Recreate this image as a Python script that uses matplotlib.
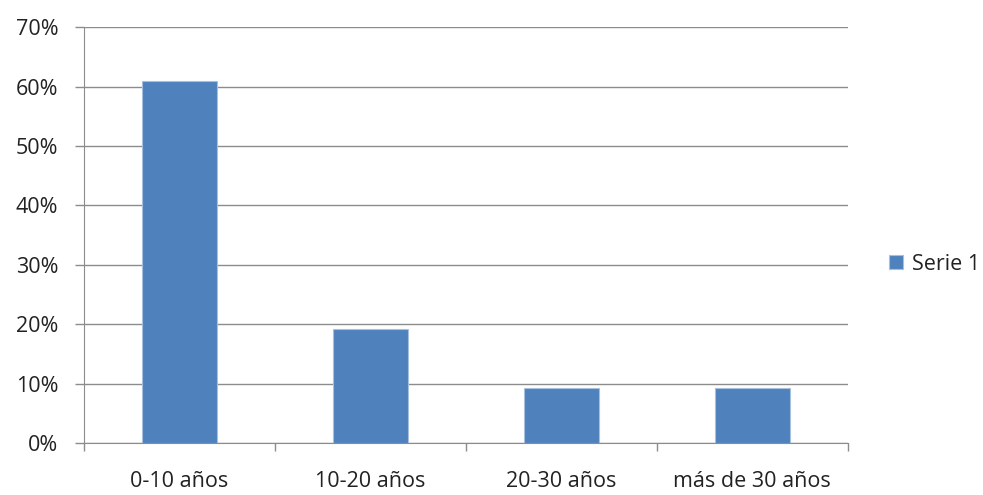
import matplotlib.pyplot as plt
import numpy as np
from matplotlib.ticker import PercentFormatter

categories = ["0-10 años", "10-20 años", "20-30 años", "más de 30 años"]
values = [61, 19.2, 9.3, 9.3]
series_name = "Serie 1"
yticks = [0, 10, 20, 30, 40, 50, 60, 70]

plt.rcParams["font.family"] = ["Open Sans", "DejaVu Sans"]

fig = plt.figure(figsize=(9.83, 4.95), dpi=100)
ax = fig.add_axes([0.0855, 0.105, 0.777, 0.84])

x = np.arange(len(categories))
ax.bar(x, values, width=0.39, color="#4F81BD", edgecolor="#A7C0DE",
       linewidth=0.8, label=series_name, zorder=3)

ax.set_xlim(-0.5, len(categories) - 0.5)
ax.set_ylim(0, 70)
ax.set_yticks(yticks)
ax.yaxis.set_major_formatter(PercentFormatter(decimals=0))
ax.grid(axis="y", color="#8C8C8C", linewidth=1, zorder=0)

ax.set_xticks(x)
ax.set_xticklabels(categories)
ax.set_xticks(np.arange(len(categories) + 1) - 0.5, minor=True)
ax.tick_params(axis="x", which="major", length=0, pad=20, labelsize=15.5, colors="#222222")
ax.tick_params(axis="x", which="minor", length=6, color="#8C8C8C", width=1)
ax.tick_params(axis="y", length=6.5, color="#8C8C8C", width=1, pad=12,
               labelsize=15.5, labelcolor="#222222")

for side in ["top", "right"]:
    ax.spines[side].set_visible(False)
ax.spines["left"].set_color("#8C8C8C")
ax.spines["bottom"].set_color("#8C8C8C")

leg = ax.legend(loc="center left", bbox_to_anchor=(1.037, 0.43), frameon=False,
                fontsize=15.5, handlelength=0.65, handleheight=0.65, handletextpad=0.4,
                borderaxespad=0.2)
for t in leg.get_texts():
    t.set_color("#222222")

fig.savefig("out.png", dpi=100)
